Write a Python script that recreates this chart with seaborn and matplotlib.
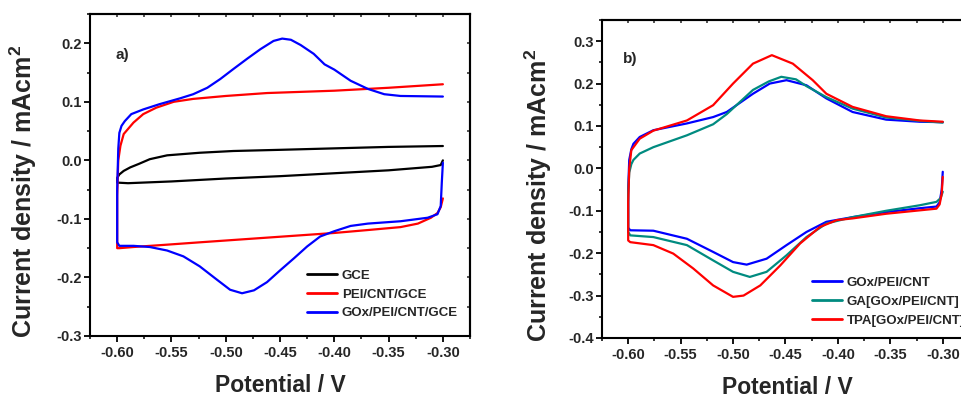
import matplotlib
matplotlib.use("Agg")
import matplotlib.pyplot as plt
import numpy as np
import pandas as pd
import seaborn as sns
from matplotlib.ticker import MultipleLocator, FormatStrFormatter

# ---------------- data (panel a) : scan order, cathodic branch then anodic branch ----------------
gce_E = [-0.300, -0.302, -0.310, -0.350, -0.400, -0.450, -0.500, -0.550, -0.590, -0.600,
         -0.600, -0.598, -0.594, -0.588, -0.580, -0.570, -0.554, -0.524, -0.493, -0.450, -0.400, -0.350, -0.300]
gce_j = [0.000, -0.008, -0.011, -0.017, -0.022, -0.027, -0.031, -0.036, -0.039, -0.038,
         -0.030, -0.024, -0.018, -0.012, -0.006, 0.002, 0.0086, 0.013, 0.016, 0.018, 0.0205, 0.023, 0.0245]

pei_E = [-0.300, -0.302, -0.305, -0.311, -0.323, -0.339, -0.369, -0.400, -0.431, -0.462, -0.493, -0.524,
         -0.554, -0.585, -0.598, -0.600, -0.600, -0.599, -0.597, -0.594, -0.585, -0.576, -0.564, -0.548,
         -0.530, -0.500, -0.462, -0.400, -0.350, -0.300]
pei_j = [-0.065, -0.080, -0.090, -0.098, -0.108, -0.114, -0.119, -0.124, -0.128, -0.132, -0.136, -0.140,
         -0.144, -0.148, -0.150, -0.150, -0.060, 0.000, 0.025, 0.045, 0.0645, 0.079, 0.090, 0.100,
         0.105, 0.110, 0.115, 0.119, 0.124, 0.130]

goxa_E = [-0.300, -0.301, -0.302, -0.305, -0.314, -0.339, -0.369, -0.385, -0.400, -0.413, -0.425, -0.437,
          -0.450, -0.462, -0.474, -0.485, -0.496, -0.508, -0.524, -0.539, -0.554, -0.570, -0.585, -0.598,
          -0.600, -0.600, -0.599, -0.598, -0.596, -0.593, -0.587, -0.576, -0.561, -0.542, -0.530, -0.517,
          -0.505, -0.493, -0.480, -0.468, -0.456, -0.448, -0.440, -0.431, -0.419, -0.409, -0.400, -0.385,
          -0.369, -0.354, -0.339, -0.300]
goxa_j = [-0.004, -0.038, -0.078, -0.092, -0.098, -0.104, -0.108, -0.112, -0.121, -0.130, -0.147, -0.167,
          -0.188, -0.208, -0.222, -0.227, -0.221, -0.204, -0.181, -0.164, -0.154, -0.148, -0.146, -0.146,
          -0.140, -0.050, 0.020, 0.047, 0.059, 0.067, 0.079, 0.087, 0.096, 0.106, 0.113, 0.124,
          0.139, 0.156, 0.174, 0.190, 0.204, 0.208, 0.206, 0.197, 0.182, 0.164, 0.155, 0.136,
          0.122, 0.113, 0.110, 0.109]

labels_a = ["GCE", "PEI/CNT/GCE", "GOx/PEI/CNT/GCE"]
colors_a = ["#000000", "#ff0000", "#0000ff"]

# ---------------- data (panel b) ----------------
goxb_E = [-0.300, -0.301, -0.303, -0.306, -0.322, -0.354, -0.386, -0.411, -0.430, -0.449, -0.468, -0.487,
          -0.500, -0.519, -0.544, -0.576, -0.598, -0.600,
          -0.600, -0.599, -0.597, -0.595, -0.589, -0.576, -0.544, -0.519, -0.506, -0.481, -0.465, -0.449,
          -0.430, -0.411, -0.386, -0.354, -0.322, -0.300]
goxb_j = [-0.008, -0.050, -0.080, -0.090, -0.094, -0.103, -0.115, -0.126, -0.150, -0.181, -0.213, -0.227,
          -0.221, -0.197, -0.166, -0.147, -0.146, -0.140,
          -0.050, 0.020, 0.045, 0.058, 0.074, 0.090, 0.106, 0.121, 0.133, 0.176, 0.200, 0.208,
          0.196, 0.165, 0.133, 0.115, 0.110, 0.109]

ga_E = [-0.300, -0.302, -0.306, -0.322, -0.354, -0.386, -0.411, -0.430, -0.449, -0.468, -0.484, -0.500,
        -0.519, -0.544, -0.576, -0.598, -0.600,
        -0.600, -0.599, -0.597, -0.595, -0.589, -0.576, -0.544, -0.519, -0.506, -0.481, -0.466, -0.454,
        -0.440, -0.430, -0.411, -0.386, -0.354, -0.322, -0.300]
ga_j = [-0.055, -0.070, -0.079, -0.087, -0.100, -0.115, -0.130, -0.162, -0.205, -0.244, -0.256, -0.244,
        -0.217, -0.181, -0.162, -0.158, -0.150,
        -0.060, -0.010, 0.010, 0.020, 0.035, 0.050, 0.078, 0.104, 0.128, 0.185, 0.205, 0.216,
        0.210, 0.194, 0.168, 0.141, 0.120, 0.112, 0.108]

tpa_E = [-0.300, -0.301, -0.303, -0.306, -0.322, -0.354, -0.386, -0.401, -0.417, -0.436, -0.455, -0.474,
         -0.490, -0.500, -0.519, -0.538, -0.557, -0.576, -0.598, -0.600,
         -0.600, -0.599, -0.597, -0.589, -0.576, -0.544, -0.519, -0.500, -0.481, -0.463, -0.443, -0.424,
         -0.411, -0.386, -0.354, -0.322, -0.300]
tpa_j = [-0.020, -0.060, -0.085, -0.095, -0.099, -0.107, -0.118, -0.122, -0.138, -0.177, -0.229, -0.276,
         -0.300, -0.303, -0.276, -0.236, -0.201, -0.181, -0.174, -0.170,
         -0.080, 0.000, 0.043, 0.070, 0.089, 0.113, 0.149, 0.200, 0.247, 0.267, 0.247, 0.208,
         0.176, 0.145, 0.123, 0.113, 0.110]

labels_b = ["GOx/PEI/CNT", "GA[GOx/PEI/CNT]", "TPA[GOx/PEI/CNT]"]
colors_b = ["#0000ff", "#008b80", "#ff0000"]

xticks = [-0.60, -0.55, -0.50, -0.45, -0.40, -0.35, -0.30]


def make_df(Es, js, labels):
    frames = []
    for E, j, lab in zip(Es, js, labels):
        frames.append(pd.DataFrame({"E": E, "j": j, "curve": lab}))
    return pd.concat(frames, ignore_index=True)


df_a = make_df([gce_E, pei_E, goxa_E], [gce_j, pei_j, goxa_j], labels_a)
df_b = make_df([goxb_E, ga_E, tpa_E], [goxb_j, ga_j, tpa_j], labels_b)

sns.set_theme(style="ticks")
plt.rcParams["font.family"] = ["Liberation Sans", "DejaVu Sans"]
plt.rcParams["font.weight"] = "bold"
plt.rcParams["axes.labelweight"] = "bold"
plt.rcParams["axes.unicode_minus"] = False
plt.rcParams["axes.linewidth"] = 1.5
plt.rcParams["mathtext.fontset"] = "custom"
plt.rcParams["mathtext.rm"] = "Liberation Sans:bold"
plt.rcParams["mathtext.bf"] = "Liberation Sans:bold"
plt.rcParams["mathtext.it"] = "Liberation Sans:bold"

fig = plt.figure(figsize=(9.61, 3.98), dpi=100)
ax1 = fig.add_axes([0.0937, 0.1558, 0.3954, 0.809])
ax2 = fig.add_axes([0.6264, 0.1508, 0.3819, 0.799])


def style_axis(ax, df, labels, colors, ylim, ystep, yfmt, label_xy, ylabel_xy, leg_xy, panel):
    sns.lineplot(data=df, x="E", y="j", hue="curve", hue_order=labels, palette=colors,
                 sort=False, estimator=None, linewidth=1.6, ax=ax)
    ax.set_xlim(-0.625, -0.275)
    ax.set_ylim(*ylim)
    ax.set_xticks(xticks)
    ax.xaxis.set_major_formatter(FormatStrFormatter("%.2f"))
    ax.xaxis.set_minor_locator(MultipleLocator(0.025))
    ax.yaxis.set_major_locator(MultipleLocator(ystep))
    ax.yaxis.set_minor_locator(MultipleLocator(ystep / 2))
    ax.yaxis.set_major_formatter(FormatStrFormatter(yfmt))
    ax.tick_params(axis="both", which="major", direction="out", length=4.5, width=1.3,
                   labelsize=10.5, pad=3, color="black")
    ax.tick_params(axis="both", which="minor", direction="out", length=2.5, width=1.1, color="black")
    ax.tick_params(axis="y", which="major", pad=1.5)
    for lab in ax.get_xticklabels() + ax.get_yticklabels():
        lab.set_fontweight("bold")
    for s in ax.spines.values():
        s.set_visible(True)
        s.set_linewidth(1.5)
        s.set_color("black")
    # inward ticks on top and right spines
    sx = ax.secondary_xaxis("top")
    sx.xaxis.set_major_locator(MultipleLocator(0.025))
    sx.tick_params(direction="in", length=2, width=1.1, labeltop=False)
    sy = ax.secondary_yaxis("right")
    sy.yaxis.set_major_locator(MultipleLocator(ystep / 2))
    sy.tick_params(direction="in", length=2, width=1.1, labelright=False)

    ax.set_xlabel("Potential / V", fontsize=16.5, fontweight="bold")
    ax.set_ylabel("Current density / mAcm$^{\\mathbf{2}}$", fontsize=18, fontweight="bold")
    ax.xaxis.set_label_coords(*label_xy)
    ax.xaxis.label.set_va("top")
    ax.yaxis.set_label_coords(*ylabel_xy)

    handles, labs = ax.get_legend_handles_labels()
    if ax.get_legend() is not None:
        ax.get_legend().remove()
    leg = ax.legend(handles, labs, loc="upper left", bbox_to_anchor=leg_xy, frameon=False,
                    prop={"weight": "bold", "size": 9.5}, handlelength=2.3, handletextpad=0.35,
                    labelspacing=0.5, borderpad=0, borderaxespad=0)
    for h in leg.get_lines():
        h.set_linewidth(2)
    ax.text(panel[1], panel[2], panel[0], transform=ax.transAxes, fontsize=11,
            fontweight="bold", ha="left", va="center")


style_axis(ax1, df_a, labels_a, colors_a, (-0.3, 0.25), 0.1, "%.1f",
           (0.501, -0.118), (-0.135, 0.45), (0.571, 0.2065), ("a)", 0.066, 0.873))
style_axis(ax2, df_b, labels_b, colors_b, (-0.4, 0.35), 0.1, "%.1f",
           (0.505, -0.1195), (-0.131, 0.45), (0.571, 0.193), ("b)", 0.057, 0.877))

fig.savefig("out.png", dpi=100, facecolor="white")
